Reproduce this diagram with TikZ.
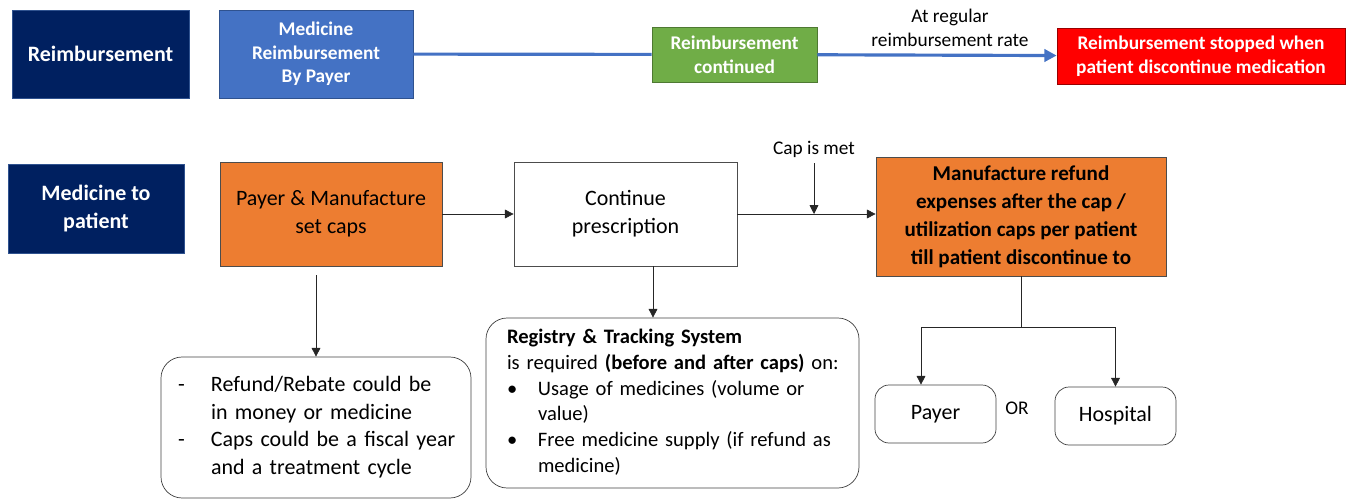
\documentclass[tikz,border=0pt]{standalone}
\usepackage{fontspec}
\setmainfont{Carlito}
\usetikzlibrary{arrows.meta}
\definecolor{navy}{HTML}{002060}
\definecolor{navyline}{HTML}{2F528F}
\definecolor{medblue}{HTML}{4472C4}
\definecolor{leafgreen}{HTML}{70AD47}
\definecolor{capsorange}{HTML}{ED7D31}
\begin{document}
\begin{tikzpicture}[
    >={Triangle[length=5pt,width=5pt]},
    hdr/.style={draw=navyline, fill=navy, text=white, align=center,
                inner sep=2pt, font=\bfseries\fontsize{12.5}{15.4}\selectfont},
    topbox/.style={draw=navyline, text=white, align=center, inner sep=2pt,
                   font=\bfseries\fontsize{11}{13.5}\selectfont},
    box/.style={draw=black!70, align=center, inner sep=2pt,
                font=\fontsize{12.5}{16}\selectfont},
    note/.style={draw=black!75, rounded corners=12pt, align=left,
                 inner sep=4pt, font=\fontsize{12.5}{15.6}\selectfont},
    lbl/.style={align=center, font=\fontsize{11}{14}\selectfont},
    arr/.style={->, thin, black!85},
    bluearr/.style={draw=medblue, line width=1.8pt}
  ]
  \useasboundingbox (0,0) rectangle (27.08,-10.02);

  % reimbursement row
  \node[hdr, minimum width=3.54cm, minimum height=1.76cm] (reimb) at (2.01,-1.08) {Reimbursement};
  \node[topbox, fill=medblue, minimum width=3.88cm, minimum height=1.76cm] (medreimb) at (6.32,-1.08)
    {Medicine\\Reimbursement\\By Payer};
  \node[topbox, fill=leafgreen, draw=leafgreen!70!black, minimum width=3.30cm, minimum height=1.10cm] (reimbcont) at (14.69,-1.09)
    {Reimbursement\\continued};
  \node[topbox, fill=red, draw=red!60!black, minimum width=5.76cm, minimum height=1.12cm] (stopped) at (24.02,-1.12)
    {Reimbursement stopped when\\patient discontinue medication};
  \node[lbl] (ratelbl) at (19.0,-0.56) {At regular\\reimbursement rate};

  \draw[bluearr] (medreimb) -- (reimbcont);
  \draw[bluearr, -{Triangle[length=7pt,width=7pt]}] (reimbcont) -- (stopped);

  % medicine to patient row
  \node[hdr, minimum width=3.52cm, minimum height=1.78cm] (medpat) at (1.92,-4.17) {Medicine to\\patient};
  \node[box, fill=capsorange, minimum width=4.44cm, minimum height=2.08cm] (setcaps) at (6.62,-4.28)
    {Payer \& Manufacture\\set caps};
  \node[box, fill=white, minimum width=4.46cm, minimum height=2.08cm] (contpres) at (12.51,-4.28)
    {Continue\\prescription};
  \node[box, fill=capsorange, minimum width=5.80cm, minimum height=2.38cm,
        font=\bfseries\fontsize{12}{16}\selectfont] (refund) at (20.42,-4.33)
    {Manufacture refund\\expenses after the cap /\\utilization caps per patient\\till patient discontinue to};
  \node[lbl] (capmet) at (16.28,-2.98) {Cap is met};
  \coordinate (capjoin) at (16.28,-4.28);

  \node[note, minimum height=2.82cm, inner xsep=0.34cm, text width=5.52cm] (notes) at (6.32,-8.55)
    {\begin{tabular}{@{}p{0.66cm}@{}l@{}}
      - & Refund/Rebate  could be\\
        & in money or medicine\\
      - & Caps could be a fiscal year\\
        & and a treatment cycle
     \end{tabular}};
  \node[note, minimum height=3.40cm, inner xsep=0.42cm, text width=6.62cm,
        font=\fontsize{11.7}{14.6}\selectfont] (registry) at (13.45,-8.06)
    {\begin{tabular}{@{}p{0.62cm}@{}l@{}}
      \multicolumn{2}{@{}l@{}}{\textbf{Registry \& Tracking System}}\\
      \multicolumn{2}{@{}l@{}}{is required \textbf{(before and after caps)} on:}\\
      \textbullet & Usage of medicines (volume or\\
                  & value)\\
      \textbullet & Free medicine supply (if refund as\\
                  & medicine)
     \end{tabular}};

  \node[note, rounded corners=8pt, minimum width=2.42cm, minimum height=1.16cm] (payer) at (18.71,-8.28) {Payer};
  \node[note, rounded corners=8pt, minimum width=2.42cm, minimum height=1.16cm] (hospital) at (22.31,-8.32) {Hospital};
  \node[lbl] (ortext) at (20.34,-8.16) {OR};
  \path (refund.south) ++(0,-1.02) coordinate (split);

  \draw[arr] (setcaps) -- (contpres);
  \draw[arr] (contpres.east) -- (contpres.east -| refund.west);
  \draw[arr] (capmet) -- (capjoin);
  \draw[arr] ([yshift=-0.18cm]setcaps.south -| notes.north) -- (notes.north);
  \draw[arr] ([xshift=0.55cm]contpres.south) -- ([xshift=0.55cm]contpres.south |- registry.north);
  \draw[thin, black!85] (refund.south) -- (split);
  \draw[arr] (split) -| ([xshift=-0.29cm]payer.north);
  \draw[arr] (split) -| (hospital.north);
\end{tikzpicture}
\end{document}
